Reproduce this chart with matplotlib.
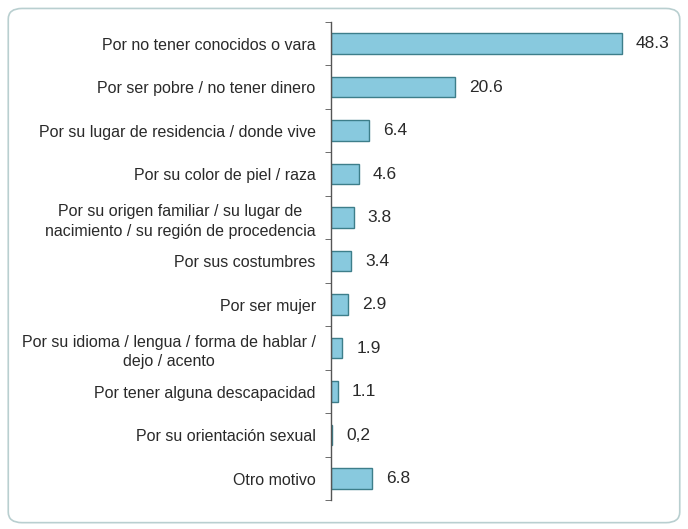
import numpy as np
import matplotlib.pyplot as plt
from matplotlib.patches import FancyBboxPatch

# motivos de discriminación (%)
motivos = [
    'Por no tener conocidos o vara',
    'Por ser pobre / no tener dinero',
    'Por su lugar de residencia / donde vive',
    'Por su color de piel / raza',
    'Por su origen familiar / su lugar de\nnacimiento / su región de procedencia',
    'Por sus costumbres',
    'Por ser mujer',
    'Por su idioma / lengua / forma de hablar /\ndejo / acento',
    'Por tener alguna descapacidad',
    'Por su orientación sexual',
    'Otro motivo',
]
porcentajes = [48.3, 20.6, 6.4, 4.6, 3.8, 3.4, 2.9, 1.9, 1.1, 0.2, 6.8]
etiquetas = ['48.3', '20.6', '6.4', '4.6', '3.8', '3.4', '2.9', '1.9', '1.1', '0,2', '6.8']

plt.rcParams['font.family'] = ['Liberation Sans', 'DejaVu Sans']

fig = plt.figure(figsize=(6.88, 5.29), dpi=100)

# marco redondeado alrededor del gráfico
marco = FancyBboxPatch((0.012, 0.012), 0.976, 0.972, transform=fig.transFigure,
                       boxstyle='round,pad=0,rounding_size=0.02',
                       facecolor='none', edgecolor='#b9cfd0', linewidth=1.2, zorder=-1)
fig.patches.append(marco)

ax = fig.add_axes([0.481, 0.054, 0.499, 0.9045])
ax.patch.set_alpha(0)
y = np.arange(len(motivos))
ax.barh(y, porcentajes, height=0.47, color='#88c9de', edgecolor='#3d7e8a', linewidth=1.0)

for yi, v, txt in zip(y, porcentajes, etiquetas):
    ax.text(v + 2.3, yi, txt, va='center', ha='left', fontsize=12.5, color='#2a2a2a')

ax.set_xlim(0, 57)
ax.set_ylim(len(motivos) - 0.5, -0.5)
ax.set_yticks(y)
ax.set_yticklabels(motivos, fontsize=11.5, color='#2a2a2a', linespacing=1.4,
                   multialignment='center')
ax.set_yticks(np.arange(len(motivos) + 1) - 0.5, minor=True)
ax.tick_params(axis='y', which='major', length=0, pad=11)
ax.tick_params(axis='y', which='minor', length=4, color='#555555', direction='out')
ax.set_xticks([])
for s in ['top', 'right', 'bottom']:
    ax.spines[s].set_visible(False)
ax.spines['left'].set_color('#555555')
ax.spines['left'].set_linewidth(1.0)

fig.savefig('out.png', dpi=100)
